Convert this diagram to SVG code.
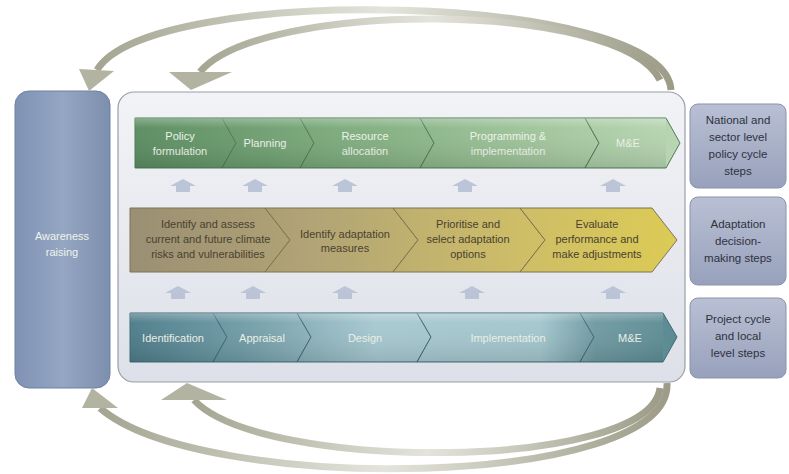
<svg xmlns="http://www.w3.org/2000/svg" width="789" height="474" viewBox="0 0 789 474">
<defs>
<linearGradient id="arcG" x1="0" y1="0" x2="1" y2="0">
<stop offset="0" stop-color="#a5a592"/><stop offset="0.5" stop-color="#e4e4dc"/><stop offset="1" stop-color="#9c9c88"/>
</linearGradient>
<linearGradient id="awG" x1="0" y1="0" x2="1" y2="0">
<stop offset="0" stop-color="#7f92b4"/><stop offset="0.5" stop-color="#95a6c3"/><stop offset="1" stop-color="#7d8fae"/>
</linearGradient>
<linearGradient id="panelG" x1="0" y1="0" x2="0" y2="1">
<stop offset="0" stop-color="#f2f3f6"/><stop offset="1" stop-color="#dde0e8"/>
</linearGradient>
<linearGradient id="sideG" x1="0" y1="0" x2="0" y2="1">
<stop offset="0" stop-color="#b9c0d4"/><stop offset="1" stop-color="#98a1bc"/>
</linearGradient>
<linearGradient id="greenG" gradientUnits="userSpaceOnUse" x1="135" y1="0" x2="680" y2="0">
<stop offset="0" stop-color="#5a8c60"/><stop offset="0.35" stop-color="#7aa97a"/><stop offset="0.7" stop-color="#9dc298"/><stop offset="1" stop-color="#b8d6b2"/>
</linearGradient>
<linearGradient id="tanG" gradientUnits="userSpaceOnUse" x1="130" y1="0" x2="677" y2="0">
<stop offset="0" stop-color="#9a8f74"/><stop offset="0.35" stop-color="#b3a575"/><stop offset="0.7" stop-color="#cdbd68"/><stop offset="1" stop-color="#dccb55"/>
</linearGradient>
<linearGradient id="tealG" gradientUnits="userSpaceOnUse" x1="130" y1="0" x2="677" y2="0">
<stop offset="0" stop-color="#4c7c89"/><stop offset="0.2" stop-color="#6f9ba6"/><stop offset="0.45" stop-color="#a7c8d0"/><stop offset="0.75" stop-color="#a3c6cd"/><stop offset="0.85" stop-color="#6f9aa2"/><stop offset="1" stop-color="#5b8a93"/>
</linearGradient>
<linearGradient id="shine" x1="0" y1="0" x2="0" y2="1">
<stop offset="0" stop-color="#ffffff" stop-opacity="0.5"/><stop offset="0.2" stop-color="#ffffff" stop-opacity="0.05"/><stop offset="1" stop-color="#000000" stop-opacity="0.18"/>
</linearGradient>
</defs>
<style>
.arc{fill:none;stroke:url(#arcG);stroke-width:7;stroke-linecap:butt}
.head{fill:#b3b3a2}
.txtW{font-family:"Liberation Sans",Arial,sans-serif;font-size:11px;fill:#eef4ea;text-anchor:middle}
.txtD{font-family:"Liberation Sans",Arial,sans-serif;font-size:11px;fill:#4a4230;text-anchor:middle}
.txtS{font-family:"Liberation Sans",Arial,sans-serif;font-size:11.5px;fill:#2e3140;text-anchor:middle}
.g{fill:url(#greenG);stroke:#4f7a55;stroke-width:1}
.t{fill:url(#tanG);stroke:#7e7450;stroke-width:1}
.c{fill:url(#tealG);stroke:#3f6a74;stroke-width:1}
.up{fill:#b4bdd4;opacity:0.85}
</style>

<g id="awareness">
<rect x="15" y="91" width="95" height="297" rx="14" fill="url(#awG)" stroke="#6f81a3" stroke-width="1"/>
<text class="txtW" x="62" y="240" fill="#f2f4f8">Awareness</text>
<text class="txtW" x="62" y="256">raising</text>
</g>

<g id="panel">
<rect x="118" y="92" width="567" height="290" rx="16" fill="url(#panelG)" stroke="#9a9ea8" stroke-width="1.2"/>
</g>

<g id="connectors">
<path class="arc" d="M671,90 C665,-8 150,-18 97,70"/>
<polygon class="head" points="79,69 114,71 89,91"/>
<path class="arc" d="M660,80 C620,0 260,0 200,72"/>
<polygon class="head" points="169,72 232,72 191,90"/>
<path class="arc" d="M667,383 C672,490 200,495 100,408"/>
<polygon class="head" points="82,408 118,408 92,388"/>
<path class="arc" d="M660,388 C650,472 260,472 194,400"/>
<polygon class="head" points="161,400 227,400 187,383"/>
<g id="upArrows1">
<polygon class="up" points="176,192 176,186 170,186 183,179 196,186 190,186 190,192"/>
<polygon class="up" points="248,192 248,186 242,186 255,179 268,186 262,186 262,192"/>
<polygon class="up" points="338,192 338,186 332,186 345,179 358,186 352,186 352,192"/>
<polygon class="up" points="458,192 458,186 452,186 465,179 478,186 472,186 472,192"/>
<polygon class="up" points="606,192 606,186 600,186 613,179 626,186 620,186 620,192"/>
</g>
<g id="upArrows2">
<polygon class="up" points="171,299 171,293 165,293 178,286 191,293 185,293 185,299"/>
<polygon class="up" points="246,299 246,293 240,293 253,286 266,293 260,293 260,299"/>
<polygon class="up" points="338,299 338,293 332,293 345,286 358,293 352,293 352,299"/>
<polygon class="up" points="465,299 465,293 459,293 472,286 485,293 479,293 479,299"/>
<polygon class="up" points="606,299 606,293 600,293 613,286 626,293 620,293 620,299"/>
</g>
</g>

<g id="greenRow">
<g id="policy"><polygon class="g" points="135,118 222,118 236,143 222,168 135,168"/><text class="txtW" x="180" y="140">Policy</text><text class="txtW" x="180" y="155">formulation</text></g>
<g id="planning"><polygon class="g" points="222,118 300,118 314,143 300,168 222,168 236,143"/><text class="txtW" x="265" y="147">Planning</text></g>
<g id="resource"><polygon class="g" points="300,118 420,118 434,143 420,168 300,168 314,143"/><text class="txtW" x="365" y="140">Resource</text><text class="txtW" x="365" y="155">allocation</text></g>
<g id="programming"><polygon class="g" points="420,118 585,118 599,143 585,168 420,168 434,143"/><text class="txtW" x="508" y="140">Programming &amp;</text><text class="txtW" x="508" y="155">implementation</text></g>
<g id="me1"><polygon class="g" points="585,118 666,118 680,143 666,168 585,168 599,143"/><text class="txtW" x="628" y="147">M&amp;E</text></g>
<rect x="135" y="118" width="531" height="50" fill="url(#shine)" opacity="0.6"/>
</g>

<g id="tanRow">
<g id="identify"><polygon class="t" points="130,208 265,208 290,240 265,272 130,272"/><text class="txtD" x="208" y="228">Identify and assess</text><text class="txtD" x="208" y="243">current and future climate</text><text class="txtD" x="208" y="258">risks and vulnerabilities</text></g>
<g id="measures"><polygon class="t" points="265,208 393,208 418,240 393,272 265,272 290,240"/><text class="txtD" x="345" y="238">Identify adaptation</text><text class="txtD" x="345" y="252" font-size="10">measures</text></g>
<g id="prioritise"><polygon class="t" points="393,208 520,208 545,240 520,272 393,272 418,240"/><text class="txtD" x="468" y="228">Prioritise and</text><text class="txtD" x="468" y="243">select adaptation</text><text class="txtD" x="468" y="258">options</text></g>
<g id="evaluate"><polygon class="t" points="520,208 652,208 677,240 652,272 520,272 545,240"/><text class="txtD" x="597" y="228">Evaluate</text><text class="txtD" x="597" y="243">performance and</text><text class="txtD" x="597" y="258">make adjustments</text></g>
</g>

<g id="tealRow">
<g id="identification"><polygon class="c" points="130,313 213,313 227,337 213,362 130,362"/><text class="txtW" x="173" y="342">Identification</text></g>
<g id="appraisal"><polygon class="c" points="213,313 297,313 311,337 297,362 213,362 227,337"/><text class="txtW" x="262" y="342">Appraisal</text></g>
<g id="design"><polygon class="c" points="297,313 417,313 431,337 417,362 297,362 311,337"/><text class="txtW" x="365" y="342">Design</text></g>
<g id="implementation"><polygon class="c" points="417,313 580,313 594,337 580,362 417,362 431,337"/><text class="txtW" x="508" y="342">Implementation</text></g>
<g id="me2"><polygon class="c" points="580,313 663,313 677,337 663,362 580,362 594,337"/><text class="txtW" x="630" y="342">M&amp;E</text></g>
<rect x="130" y="313" width="533" height="49" fill="url(#shine)" opacity="0.6"/>
</g>

<g id="national">
<rect x="690" y="104" width="96" height="84" rx="8" fill="url(#sideG)" stroke="#8a93ad" stroke-width="1"/>
<text class="txtS" x="738" y="124">National and</text><text class="txtS" x="738" y="141">sector level</text><text class="txtS" x="738" y="158">policy cycle</text><text class="txtS" x="738" y="175">steps</text>
</g>
<g id="adaptation">
<rect x="690" y="197" width="96" height="88" rx="8" fill="url(#sideG)" stroke="#8a93ad" stroke-width="1"/>
<text class="txtS" x="738" y="228">Adaptation</text><text class="txtS" x="738" y="245">decision-</text><text class="txtS" x="738" y="262">making steps</text>
</g>
<g id="project">
<rect x="690" y="298" width="96" height="80" rx="8" fill="url(#sideG)" stroke="#8a93ad" stroke-width="1"/>
<text class="txtS" x="738" y="323">Project cycle</text><text class="txtS" x="738" y="340">and local</text><text class="txtS" x="738" y="357">level steps</text>
</g>
</svg>
